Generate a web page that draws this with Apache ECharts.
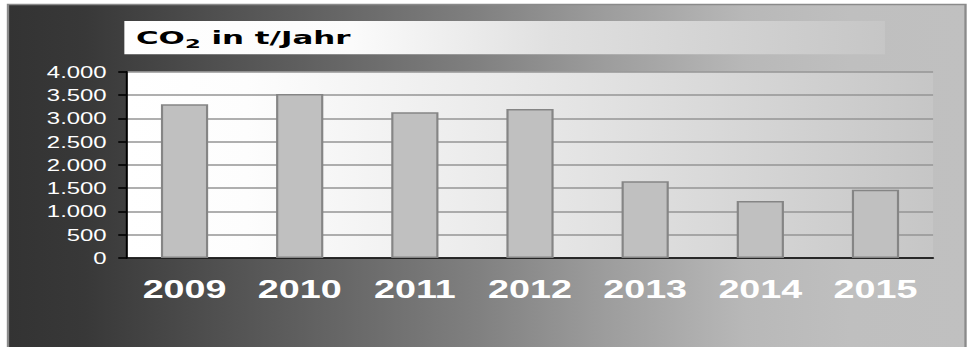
<!DOCTYPE html>
<html>
<head>
<meta charset="utf-8">
<script src="https://cdn.jsdelivr.net/npm/echarts@6/dist/echarts.min.js"></script>
<style>
  html, body { margin: 0; padding: 0; background: #ffffff; overflow: hidden; }
  /* the chart is laid out narrow and widened, giving the broad letterforms */
  #chart { width: 670px; height: 347px; transform: scaleX(1.4493); transform-origin: 0 0; }
</style>
</head>
<body>
<div id="chart"></div>
<script>
const years = ['2009', '2010', '2011', '2012', '2013', '2014', '2015'];
const co2Tonnes = [3300, 3520, 3130, 3200, 1650, 1225, 1465];
const titleParts = ['CO', '2', ' in t/Jahr'];

function linear(stops) {
  return {
    type: 'linear', x: 0, y: 0, x2: 1, y2: 0,
    colorStops: stops.map(([offset, color]) => ({ offset, color }))
  };
}

function thousands(v) {
  return String(v).replace(/\B(?=(\d{3})+(?!\d))/g, '.');
}

const chart = echarts.init(document.getElementById('chart'), null, { renderer: 'svg' });

const titleFont = { fontFamily: 'DejaVu Sans', fontWeight: 'bold', fill: '#000000' };

chart.setOption({
  animation: false,
  backgroundColor: '#ffffff',
  graphic: [
    {
      type: 'rect', z: -100, silent: true,
      shape: { x: 5.5, y: 4.5, width: 660.7, height: 360 },
      style: {
        fill: linear([[0, '#333333'], [0.08, '#383838'], [0.3, '#5e5e5e'], [0.49, '#808080'],
                      [0.62, '#9c9c9c'], [0.77, '#b8b8b8'], [0.88, '#bfbfbf'], [1, '#c0c0c0']]),
        stroke: '#8a8a8a', lineWidth: 1.6
      }
    },
    {
      type: 'rect', z: 10, silent: true,
      shape: { x: 85.8, y: 21, width: 524.8, height: 33.3 },
      style: {
        fill: linear([[0, '#ffffff'], [0.3, '#fbfbfb'], [0.56, '#e0e0e0'], [1, '#c6c6c6']])
      }
    },
    {
      type: 'text', z: 11, silent: true,
      x: 93.8, y: 30, scaleX: 1.255,
      style: {
        text: '{a|' + titleParts[0] + '}{b|' + titleParts[1] + '}{a|' + titleParts[2] + '}',
        align: 'left',
        verticalAlign: 'top',
        rich: {
          a: Object.assign({ fontSize: 17, lineHeight: 17, verticalAlign: 'top' }, titleFont),
          b: Object.assign({ fontSize: 12.5, lineHeight: 12.5, verticalAlign: 'top', padding: [7, 0, 0, 0] }, titleFont)
        }
      }
    }
  ],
  grid: {
    left: 87.6, right: 26.2, top: 71.7, bottom: 89,
    show: true, borderWidth: 0,
    backgroundColor: linear([[0, '#ffffff'], [0.15, '#fdfdfd'], [0.56, '#e4e4e4'], [1, '#c6c6c6']])
  },
  xAxis: {
    type: 'category',
    data: years,
    axisLine: { lineStyle: { color: '#000000', width: 1.6 } },
    axisTick: { length: 7, lineStyle: { color: '#000000', width: 1.4 } },
    axisLabel: {
      color: '#ffffff', fontFamily: 'Liberation Sans', fontWeight: 'bold',
      fontSize: 26, margin: 18
    }
  },
  yAxis: {
    type: 'value', min: 0, max: 4000, interval: 500,
    axisLine: { show: true, lineStyle: { color: '#000000', width: 1.4 } },
    axisTick: { show: true, length: 6, lineStyle: { color: '#000000', width: 1.6 } },
    axisLabel: {
      color: '#ffffff', fontFamily: 'Liberation Sans', fontSize: 16.5, margin: 14,
      formatter: thousands
    },
    splitLine: { lineStyle: { color: '#959595', width: 1.6 } }
  },
  series: [{
    type: 'bar',
    data: co2Tonnes,
    barWidth: '41%',
    itemStyle: { color: '#c0c0c0', borderColor: '#858585', borderWidth: 1.5 }
  }]
});
</script>
</body>
</html>
